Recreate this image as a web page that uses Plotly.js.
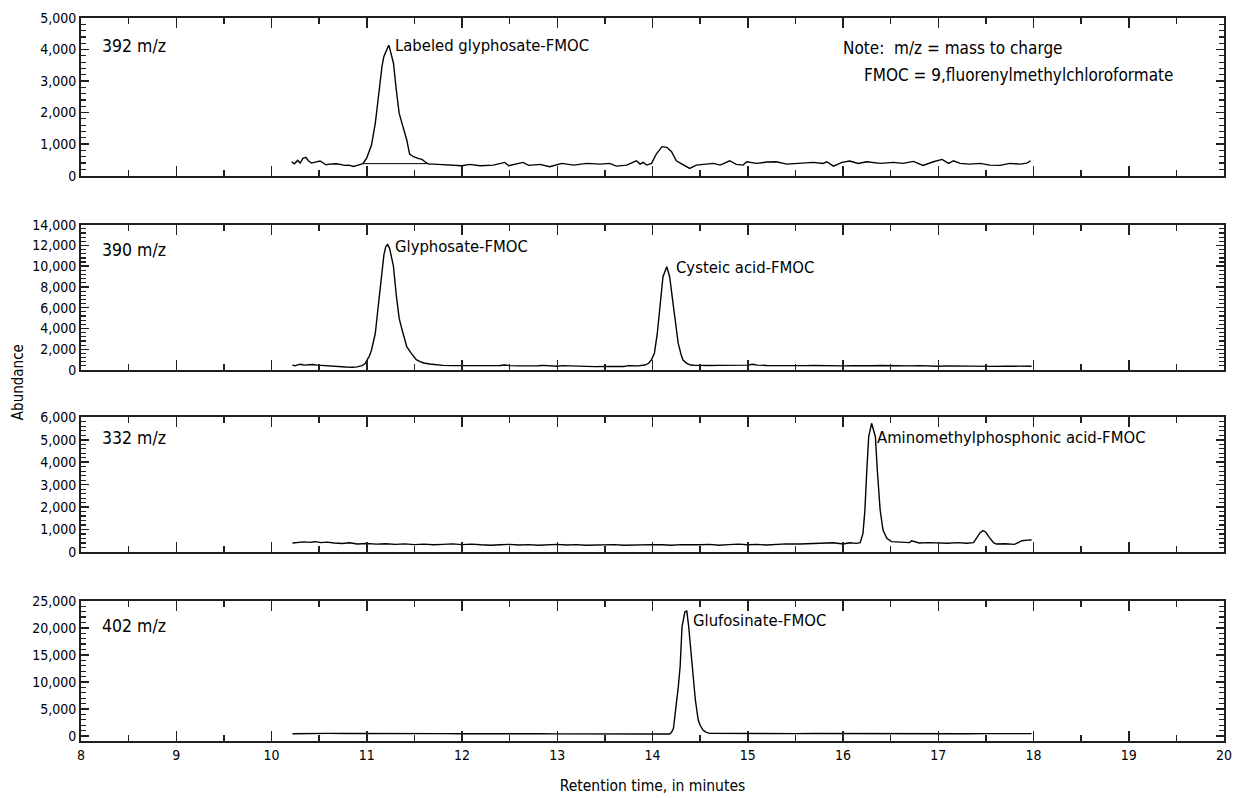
<!DOCTYPE html>
<html>
<head>
<meta charset="utf-8">
<script src="https://cdn.plot.ly/plotly-3.0.1.min.js"></script>
<style>html,body{margin:0;padding:0;background:#fff;}#chart{width:1236px;height:798px;}</style>
</head>
<body>
<div id="chart"></div>
<script>
// ---------- Data ----------
// 392 m/z : labeled glyphosate-FMOC
const t392 = [10.21,10.24,10.275,10.30,10.33,10.36,10.39,10.42,10.46,10.51,10.54,10.57,10.61,10.68,10.72,10.77,10.81,10.86,10.91,10.96,
  11.00,11.02,11.05,11.09,11.12,11.16,11.18,11.21,11.23,11.24,11.28,11.31,11.34,11.38,11.42,11.45,11.49,11.54,11.58,11.61,11.63,11.65,
  11.70,11.84,12.00,12.08,12.19,12.33,12.45,12.49,12.64,12.70,12.82,12.92,13.05,13.17,13.31,13.45,13.55,13.62,13.73,13.83,13.87,13.90,13.94,13.99,
  14.04,14.10,14.15,14.20,14.25,14.31,14.39,14.46,14.57,14.64,14.71,14.81,14.88,14.95,14.99,15.09,15.20,15.30,15.41,15.55,15.69,15.79,15.83,15.90,15.99,
  16.07,16.16,16.25,16.39,16.53,16.63,16.74,16.84,16.95,17.04,17.11,17.16,17.23,17.33,17.44,17.54,17.65,17.75,17.86,17.93,17.97];
const a392 = [440,377,483,398,547,579,462,398,430,462,409,345,366,377,356,324,334,292,334,377,
  560,707,971,1662,2510,3465,3783,3997,4134,4050,3573,2723,1981,1554,1131,685,599,548,516,440,389,366,
  366,345,313,356,313,334,419,313,419,324,356,281,387,334,387,366,387,302,334,472,366,419,334,387,
  685,919,898,759,472,366,228,334,356,387,334,472,356,334,440,387,430,440,366,387,419,387,440,302,419,
  462,387,440,387,419,387,451,324,440,515,387,472,387,366,387,334,324,387,366,398,472];
// integration baseline under the labeled glyphosate peak
const t392base = [10.96, 11.63];
const a392base = [380, 380];

// 390 m/z : glyphosate-FMOC and cysteic acid-FMOC
const t390 = [10.22,10.25,10.28,10.31,10.34,10.38,10.43,10.48,10.53,10.60,10.66,10.72,10.78,10.85,10.90,10.95,10.98,
  11.00,11.03,11.05,11.07,11.09,11.12,11.14,11.16,11.18,11.20,11.22,11.24,11.26,11.28,11.31,11.34,11.37,11.42,11.46,11.49,11.52,11.56,11.60,11.66,11.73,
  11.80,11.90,12.00,12.10,12.20,12.30,12.40,12.45,12.50,12.60,12.70,12.80,12.85,12.90,13.00,13.05,13.10,13.20,13.30,13.40,13.50,13.60,13.70,13.75,13.80,13.85,13.92,
  13.96,13.99,14.02,14.05,14.08,14.11,14.15,14.18,14.22,14.25,14.27,14.30,14.32,14.36,14.40,14.45,
  14.50,14.60,14.70,14.80,14.90,15.00,15.05,15.10,15.20,15.30,15.40,15.50,15.60,15.70,15.80,15.90,16.00,16.10,16.20,16.30,16.40,16.50,
  16.60,16.70,16.80,16.90,17.00,17.10,17.20,17.30,17.40,17.50,17.60,17.70,17.80,17.90,17.98];
const a390 = [482,400,520,560,470,500,530,470,430,380,330,300,290,270,300,420,600,
  899,1400,1927,2700,3533,6100,8000,9635,11100,11900,12100,11720,11000,10000,7200,5000,3900,2250,1700,1285,1000,804,680,578,482,
  450,420,420,410,420,400,440,480,420,400,390,410,450,400,370,420,400,370,350,330,340,350,340,420,380,400,480,
  650,1000,1600,3500,6100,8990,9955,8990,6100,4000,2570,1500,963,650,482,450,
  470,440,450,460,430,470,560,470,440,420,460,430,420,440,410,430,400,420,390,410,430,400,
  380,400,420,380,370,400,380,360,390,370,350,380,360,340,360];

// 332 m/z : aminomethylphosphonic acid-FMOC
const t332 = [10.22,10.28,10.34,10.40,10.46,10.52,10.58,10.66,10.74,10.82,10.90,11.00,11.10,11.20,11.30,11.40,11.50,11.60,11.70,11.80,11.90,
  12.00,12.10,12.20,12.30,12.40,12.50,12.60,12.70,12.80,12.90,13.00,13.10,13.20,13.30,13.40,13.50,13.60,13.70,13.80,13.90,14.00,
  14.10,14.20,14.30,14.40,14.50,14.60,14.70,14.80,14.90,15.00,15.10,15.20,15.30,15.40,15.55,15.72,15.90,16.00,16.07,16.14,
  16.18,16.21,16.23,16.25,16.27,16.30,16.34,16.36,16.39,16.42,16.46,16.51,16.60,16.70,16.72,16.80,16.90,17.00,17.10,17.20,17.30,
  17.37,17.40,17.44,17.47,17.50,17.53,17.58,17.61,17.70,17.80,17.85,17.88,17.93,17.98];
const a332 = [400,420,450,430,460,420,440,400,380,410,360,380,350,370,340,360,330,350,320,340,360,
  330,350,320,300,320,340,310,330,300,320,340,310,330,300,320,310,330,300,320,310,330,
  320,300,330,310,320,340,300,330,350,320,340,310,330,360,356,386,415,356,415,386,
  416,831,1871,3653,5136,5733,5136,3653,1871,980,609,460,430,420,503,400,420,400,390,420,390,
  415,610,860,950,880,683,415,356,370,340,420,503,530,534];

// 402 m/z : glufosinate-FMOC
const t402 = [10.22,10.40,10.60,10.80,11.00,11.20,11.40,11.60,11.80,12.00,12.20,12.40,12.60,12.80,13.00,13.20,13.40,13.60,13.80,14.00,14.10,
  14.18,14.20,14.22,14.25,14.27,14.29,14.31,14.34,14.36,14.38,14.41,14.43,14.45,14.48,14.50,14.53,14.56,14.60,
  14.70,14.90,15.10,15.30,15.50,15.70,15.90,16.10,16.30,16.50,16.70,16.90,17.10,17.30,17.50,17.70,17.98];
const a402 = [450,520,500,480,500,470,500,480,460,440,470,450,430,450,420,440,410,420,400,390,400,
  388,700,1440,5427,9000,12810,20200,22965,23095,20200,14050,10000,6665,2970,2000,1125,750,517,
  500,480,470,490,470,480,460,470,480,460,470,450,460,450,470,460,460];

const massLabels = ['392 m/z','390 m/z','332 m/z','402 m/z'];
const peakNames = ['Labeled glyphosate-FMOC','Glyphosate-FMOC','Cysteic acid-FMOC','Aminomethylphosphonic acid-FMOC','Glufosinate-FMOC'];
const xTickVals = [8,9,10,11,12,13,14,15,16,17,18,19,20];

// ---------- Styling ----------
const FONT = '"Liberation Sans Narrow", "DejaVu Sans Condensed", "Arial Narrow", "Roboto", sans-serif';
const INK = '#231f20';
const lineStyle = {color: '#000', width: 1.4};

const traces = [
  {x: t392, y: a392, xaxis: 'x', yaxis: 'y', mode: 'lines', line: lineStyle, name: massLabels[0]},
  {x: t392base, y: a392base, xaxis: 'x', yaxis: 'y', mode: 'lines', line: {color: '#000', width: 1}, name: 'baseline'},
  {x: t390, y: a390, xaxis: 'x2', yaxis: 'y2', mode: 'lines', line: lineStyle, name: massLabels[1]},
  {x: t332, y: a332, xaxis: 'x3', yaxis: 'y3', mode: 'lines', line: lineStyle, name: massLabels[2]},
  {x: t402, y: a402, xaxis: 'x4', yaxis: 'y4', mode: 'lines', line: lineStyle, name: massLabels[3]}
];

function xAx(anchor, showLabels) {
  return {
    anchor: anchor, domain: [0, 1], range: [8, 20],
    tickmode: 'array', tickvals: xTickVals,
    ticks: 'inside', ticklen: 10, tickwidth: 1.5, tickcolor: INK,
    minor: {dtick: 0.5, tick0: 8, ticks: 'inside', ticklen: 6, tickwidth: 1.5, tickcolor: INK},
    showline: true, linecolor: INK, linewidth: 2, mirror: 'ticks',
    showgrid: false, zeroline: false,
    showticklabels: showLabels,
    tickfont: {family: FONT, size: 14, color: '#000'}
  };
}
function yAx(anchor, domain, range, dtick, minorDtick) {
  return {
    anchor: anchor, domain: domain, range: range,
    dtick: dtick, tick0: 0, tickformat: ',',
    ticks: 'inside', ticklen: 8, tickwidth: 1.5, tickcolor: INK,
    minor: {dtick: minorDtick, tick0: 0, ticks: 'inside', ticklen: 5, tickwidth: 1.2, tickcolor: INK},
    showline: true, linecolor: INK, linewidth: 2, mirror: 'ticks',
    showgrid: false, zeroline: false,
    tickfont: {family: FONT, size: 14, color: '#000'}
  };
}

const xa4 = xAx('y4', true);
xa4.title = {text: 'Retention time, in minutes', font: {family: FONT, size: 15.5, color: '#000'}, standoff: 18};

function ann(xref, yref, x, y, text, size, extra) {
  return Object.assign({xref: xref, yref: yref, x: x, y: y, text: text, showarrow: false,
    xanchor: 'left', yanchor: 'middle', font: {family: FONT, size: size, color: '#000'}}, extra || {});
}

const annotations = [
  ann('x', 'y', 8.2, 4100, massLabels[0], 17.5),
  ann('x2', 'y2', 8.2, 11560, massLabels[1], 17.5),
  ann('x3', 'y3', 8.2, 5080, massLabels[2], 17.5),
  ann('x4', 'y4', 8.2, 20370, massLabels[3], 17.5),
  ann('x', 'y', 11.28, 4120, peakNames[0], 16.5),
  ann('x2', 'y2', 11.28, 11880, peakNames[1], 16.5),
  ann('x3', 'y3', 16.34, 5110, peakNames[3], 16.5),
  ann('x2', 'y2', 14.23, 9900, peakNames[2], 16.5),
  ann('x4', 'y4', 14.40, 21350, peakNames[4], 16.5),
  ann('x', 'y', 15.98, 4050, 'Note:\u00a0 m/z = mass to charge', 17),
  ann('x', 'y', 16.20, 3190, 'FMOC = 9,fluorenylmethylchloroformate', 17),
  ann('paper', 'paper', -0.055, 0.4965, 'Abundance', 15, {xanchor: 'center', textangle: -90})
];

const layout = {
  width: 1236, height: 798,
  margin: {l: 81, r: 12, t: 18, b: 57},
  paper_bgcolor: '#fff', plot_bgcolor: '#fff',
  showlegend: false,
  font: {family: FONT, color: '#000'},
  xaxis: xAx('y', false),
  xaxis2: xAx('y2', false),
  xaxis3: xAx('y3', false),
  xaxis4: xa4,
  yaxis: yAx('x', [0.782, 1.0], [0, 5000], 1000, 200),
  yaxis2: yAx('x2', [0.5131, 0.7141], [0, 14000], 2000, 400),
  yaxis3: yAx('x3', [0.2614, 0.4477], [0, 6000], 1000, 200),
  yaxis4: yAx('x4', [0, 0.1940], [-900, 25000], 5000, 1000),
  annotations: annotations
};

Plotly.newPlot('chart', traces, layout, {displayModeBar: false, staticPlot: true});
</script>
</body>
</html>
